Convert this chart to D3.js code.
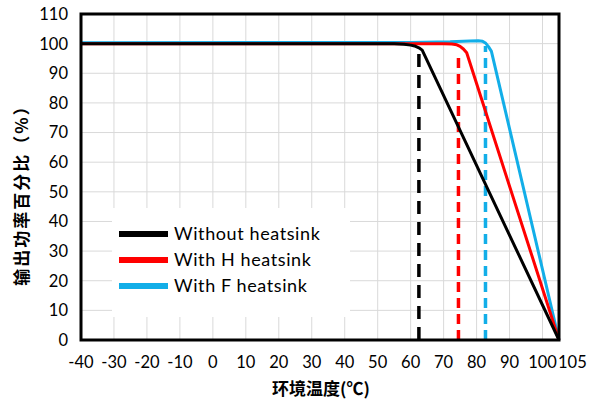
<!DOCTYPE html>
<meta charset="UTF-8">
<script src="https://d3js.org/d3.v7.min.js"></script>
<style>
body { margin: 0; background: #fff; }
text { font-family: Lato, "Noto Sans", sans-serif; fill: #000; }
</style>
<div id="chart"></div>
<script>

// data
var xTicks = [-40, -30, -20, -10, 0, 10, 20, 30, 40, 50, 60, 70, 80, 90, 100, 105]
var yTicks = [0, 10, 20, 30, 40, 50, 60, 70, 80, 90, 100, 110]

var seriesNames = ["Without heatsink", "With H heatsink", "With F heatsink"]
var seriesColors = ["#000000", "#ff0000", "#12aee8"]

var blackT = [-40, 50, 55, 58, 60, 61.5, 62.5, 63.5, 105]
var blackV = [100, 100, 99.95, 99.8, 99.5, 99.1, 98.6, 97.8, 0]
var redT = [-40, 70, 72.5, 74, 75, 76, 77, 105]
var redV = [100, 100, 99.9, 99.6, 99.1, 98.2, 96.9, 0]
var blueT = [-40, 60, 72, 78, 80.5, 81.8, 82.8, 83.6, 84.5, 105]
var blueV = [100.3, 100.4, 100.6, 100.9, 101, 100.8, 100.1, 99, 97.4, 0]

// dashed markers: temperature and top value
var markT = [62.5, 74.5, 82.7]
var markV = [98.4, 97, 99.2]

var width = 603
var height = 405
var plotLeft = 81, plotRight = 559, plotTop = 14, plotBottom = 340

var svg = d3.select("#chart").append("svg")
    .attr("width", width)
    .attr("height", height)

var x = d3.scaleLinear().domain([-40, 105]).range([plotLeft, plotRight])
var y = d3.scaleLinear().domain([0, 110]).range([plotBottom, plotTop])

// gridlines
svg.append("g").selectAll("line")
    .data(yTicks.slice(1, -1))
    .enter().append("line")
        .attr("x1", plotLeft).attr("x2", plotRight)
        .attr("y1", function(d){ return y(d) }).attr("y2", function(d){ return y(d) })
        .attr("stroke", "#d9d9d9").attr("stroke-width", 1)
svg.append("g").selectAll("line")
    .data(xTicks.slice(1, -1))
    .enter().append("line")
        .attr("x1", function(d){ return x(d) }).attr("x2", function(d){ return x(d) })
        .attr("y1", plotTop).attr("y2", plotBottom)
        .attr("stroke", "#d9d9d9").attr("stroke-width", 1)

// legend box hides the grid
svg.append("rect")
    .attr("x", 112).attr("y", 208)
    .attr("width", 238).attr("height", 109)
    .attr("fill", "#fff")

var line = d3.line()
    .x(function(d){ return x(d[0]) })
    .y(function(d){ return y(d[1]) })

var series = [
    d3.zip(blackT, blackV),
    d3.zip(redT, redV),
    d3.zip(blueT, blueV)
]

// dashed lines
svg.append("g").selectAll("line")
    .data(markT)
    .enter().append("line")
        .attr("x1", function(d){ return x(d) }).attr("x2", function(d){ return x(d) })
        .attr("y1", plotBottom).attr("y2", function(d, i){ return y(markV[i]) })
        .attr("stroke", function(d, i){ return seriesColors[i] })
        .attr("stroke-width", 3.5)
        .attr("stroke-dasharray", function(d, i){ return i == 0 ? "13,8" : "10,6" })

// curves, drawn blue first so black and red sit on top
svg.append("g").selectAll("path")
    .data([2, 1, 0])
    .enter().append("path")
        .attr("d", function(i){ return line(series[i]) })
        .attr("fill", "none")
        .attr("stroke", function(i){ return seriesColors[i] })
        .attr("stroke-width", 3)
        .attr("stroke-linejoin", "round")

// frame
svg.append("rect")
    .attr("x", plotLeft).attr("y", plotTop)
    .attr("width", plotRight - plotLeft).attr("height", plotBottom - plotTop)
    .attr("fill", "none")
    .attr("stroke", "#000").attr("stroke-width", 3)

// tick labels
svg.append("g").selectAll("text")
    .data(yTicks)
    .enter().append("text")
        .attr("x", 68)
        .attr("y", function(d){ return y(d) })
        .attr("dy", "0.36em")
        .attr("text-anchor", "end")
        .style("font-size", "16.5px")
        .text(function(d){ return d })
svg.append("g").selectAll("text")
    .data(xTicks)
    .enter().append("text")
        .attr("x", function(d){ return d == 105 ? x(d) - 1 : x(d) })
        .attr("y", 368)
        .attr("text-anchor", function(d){ return d == 105 ? "start" : "middle" })
        .style("font-size", "16.5px")
        .text(function(d){ return d })

// axis titles
svg.append("text")
    .attr("x", 321).attr("y", 395)
    .attr("text-anchor", "middle")
    .style("font-family", "'Noto Sans CJK SC'")
    .style("font-weight", "bold")
    .style("font-size", "17px")
    .text("环境温度(℃)")
svg.append("text")
    .attr("transform", "translate(28,191) rotate(-90)")
    .attr("text-anchor", "middle")
    .style("font-family", "'Noto Sans CJK SC'")
    .style("font-weight", "bold")
    .style("font-size", "17px")
    .style("letter-spacing", "2px")
    .text("输出功率百分比（%）")

// legend
var legend = svg.append("g").selectAll("g")
    .data(seriesNames)
    .enter().append("g")
        .attr("transform", function(d, i){ return "translate(0," + (234 + i * 26) + ")" })
legend.append("line")
    .attr("x1", 119).attr("x2", 168)
    .attr("stroke", function(d, i){ return seriesColors[i] })
    .attr("stroke-width", 6)
legend.append("text")
    .attr("x", 174).attr("y", 6)
    .style("font-size", "18px")
    .style("letter-spacing", "0.6px")
    .text(function(d){ return d })

</script>
